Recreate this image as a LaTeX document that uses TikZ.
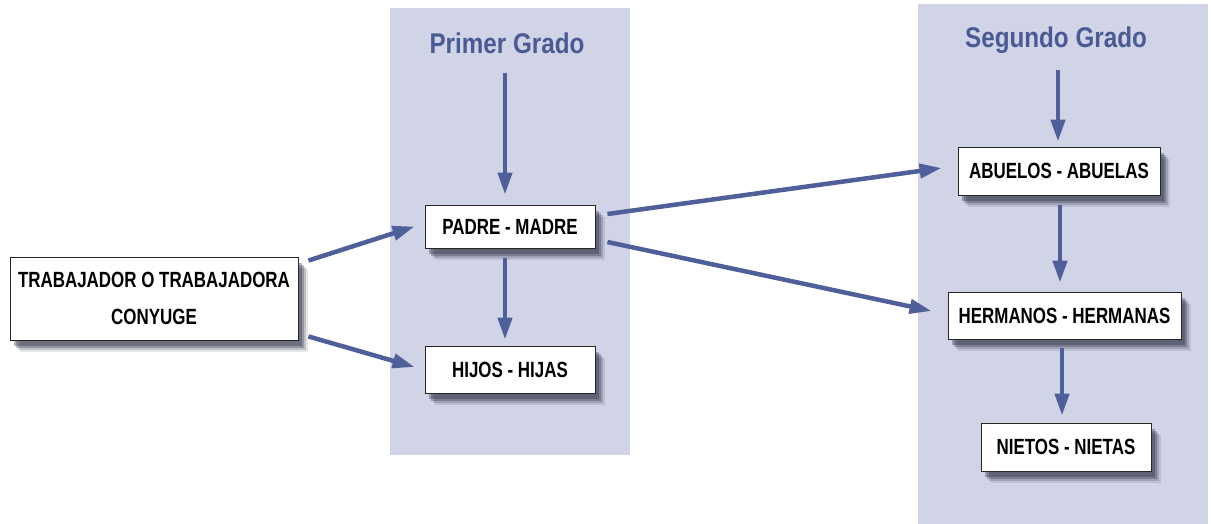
\documentclass[tikz,border=0pt]{standalone}
\usepackage{fontspec}
\setmainfont{Liberation Sans}
\newfontfamily\boxfont{Liberation Sans}[FakeStretch=0.77]
\newfontfamily\ttlfont{Liberation Sans}[FakeStretch=0.85]
\usetikzlibrary{arrows.meta,shadows,calc}
\definecolor{panelc}{HTML}{D0D4E6}
\definecolor{arrc}{HTML}{4F5F99}
\definecolor{titlec}{HTML}{4A5A94}
\definecolor{shadc}{HTML}{2A2E40}
\tikzset{
  panel/.style={fill=panelc,draw=none},
  box/.style={draw=black!85,line width=0.9pt,fill=white,inner sep=0pt,align=center,
    font=\boxfont\fontsize{22}{24}\selectfont\bfseries,
    drop shadow={shadow xshift=10pt,shadow yshift=-12pt,opacity=0.12,fill=shadc},
    drop shadow={shadow xshift=8pt,shadow yshift=-10pt,opacity=0.2,fill=shadc},
    drop shadow={shadow xshift=6pt,shadow yshift=-8pt,opacity=0.3,fill=shadc},
    drop shadow={shadow xshift=4pt,shadow yshift=-6pt,opacity=0.35,fill=shadc}},
  ttl/.style={text=titlec,font=\ttlfont\fontsize{28.5}{30}\selectfont\bfseries},
  arr/.style={draw=arrc,line width=4.5pt,-{Triangle[length=22pt,width=14pt]}},
}
\begin{document}
\begin{tikzpicture}[x=1pt,y=-1pt]
\useasboundingbox (0,0) rectangle (1211,524);
\fill[panel] (390,8) rectangle (630,455);
\fill[panel] (918,4) rectangle (1208,524);
\node[ttl] (t1) at (507,43) {Primer Grado};
\node[ttl] (t2) at (1056,40) {Segundo Grado};
\node[box,minimum width=288pt,minimum height=83pt] (trab) at (154,298.5) {TRABAJADOR O TRABAJADORA\\[13pt]CONYUGE};
\node[box,minimum width=170pt,minimum height=43pt] (padre) at (510,226.5) {PADRE - MADRE};
\node[box,minimum width=170pt,minimum height=47pt] (hijos) at (510,369.5) {HIJOS - HIJAS};
\node[box,minimum width=202pt,minimum height=48pt] (abu) at (1059,171) {ABUELOS - ABUELAS};
\node[box,minimum width=233pt,minimum height=47pt] (her) at (1064.5,315.5) {HERMANOS - HERMANAS};
\node[box,minimum width=170pt,minimum height=48pt] (nie) at (1066,447) {NIETOS - NIETAS};
\coordinate (s1) at (505,73);
\coordinate (s2) at (1058,70);
\draw[arr] (s1) -- ([shift={(-5,-10)}]padre.north);
\draw[arr] ([shift={(-5,10)}]padre.south) -- ([shift={(-5,-6)}]hijos.north);
\draw[arr] ([shift={(10,4)}]trab.north east) -- ([shift={(-10,0)}]padre.west);
\draw[arr] ([shift={(10,-4)}]trab.south east) -- ([shift={(-10,-2.5)}]hijos.west);
\draw[arr] ([shift={(12,-12.5)}]padre.east) -- ([shift={(-16,-3)}]abu.west);
\draw[arr] ([shift={(12,15.5)}]padre.east) -- ([shift={(-16,-4.5)}]her.west);
\draw[arr] (s2) -- ([shift={(-1,-5)}]abu.north);
\draw[arr] ([shift={(1,10)}]abu.south) -- ([shift={(-4.5,-9)}]her.north);
\draw[arr] ([shift={(-2.5,9)}]her.south) -- ([shift={(-4,-7)}]nie.north);
\end{tikzpicture}
\end{document}
